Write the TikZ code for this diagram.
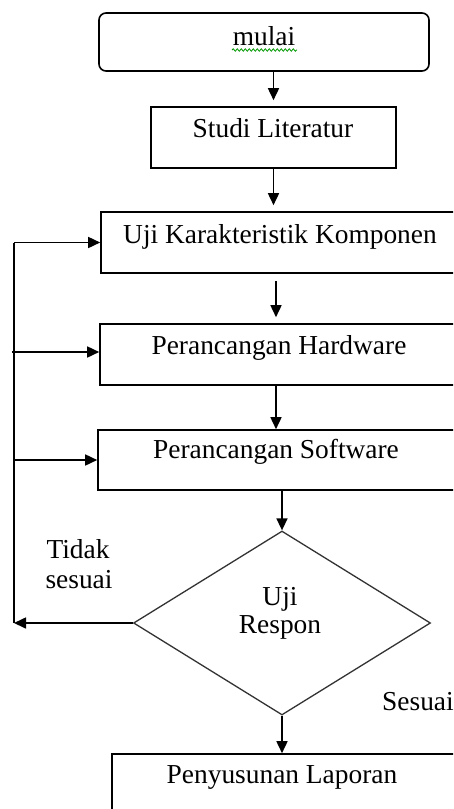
\documentclass[tikz,border=0pt]{standalone}
\usepackage{fontspec}
\setmainfont{Liberation Serif}
\usetikzlibrary{arrows.meta,shapes.geometric,decorations.pathmorphing}
\begin{document}
\begin{tikzpicture}[x=1pt,y=-1pt,
  box/.style={draw=black,line width=1.6pt,inner sep=0pt,minimum width=#1},
  txt/.style={anchor=base,inner sep=0pt,font=\fontsize{27.4}{30}\selectfont},
  arr/.style={line width=1.6pt,-{Triangle[length=12pt,width=11pt]}},
  ln/.style={line width=1.6pt}]
\useasboundingbox (0,0) rectangle (453,809);
\clip (0,0) rectangle (453,809);
\fill[white] (0,0) rectangle (453,809);
% boxes
\node[box=330pt,minimum height=58pt,rounded corners=7pt] (b1) at (264,42) {};
\node[box=245pt,minimum height=61pt] (b2) at (273.5,137.5) {};
\node[box=359pt,minimum height=61pt] (b3) at (280.5,242.5) {};
\node[box=360pt,minimum height=61pt] (b4) at (280,354.5) {};
\node[box=362pt,minimum height=60pt] (b5) at (279,460) {};
\node[diamond,draw=black!80,line width=1.3pt,inner sep=0pt,minimum width=297pt,minimum height=184pt] (d) at (282,623) {};
\node[box=348pt,minimum height=61pt] (b6) at (286,784.5) {};
% texts
\node[txt] (t1) at (264,45) {mulai};
\draw[green!60!black,line width=0.8pt,decorate,decoration={snake,amplitude=1.2pt,segment length=4pt}] (232,50) -- (297,50);
\node[txt] (t2) at (273,137) {Studi Literatur};
\node[txt] (t3) at (280,243) {Uji Karakteristik Komponen};
\node[txt] (t4) at (279,354) {Perancangan Hardware};
\node[txt] (t5) at (276,458) {Perancangan Software};
\node[txt] (t6) at (280,605) {Uji};
\node[txt] (t7) at (280,633) {Respon};
\node[txt] (t8) at (78,558) {Tidak};
\node[txt] (t9) at (79,588) {sesuai};
\node[txt] (t10) at (418,710) {Sesuai};
\node[txt] (t11) at (282,783) {Penyusunan Laporan};
% coordinates for loop
\coordinate (c1) at (14,623);
\coordinate (c2) at (12,352);
\coordinate (c3) at (14,460);
% connectors
\draw[arr,shorten >=6pt] (b1.south -| b2.north) -- (b2.north);
\draw[arr,shorten >=6pt] (b2.south) -- (b2.south |- b3.north);
\draw[arr,shorten <=7pt,shorten >=6pt] ([xshift=-4.5pt]b3.south) -- ([xshift=-4.5pt]b3.south |- b4.north);
\draw[arr] ([xshift=-4pt]b4.south) -- ([xshift=-4pt]b4.south |- b5.north);
\draw[arr] (b5.south -| d.north) -- (d.north);
\draw[arr] (d.south) -- (d.south |- b6.north);
\draw[arr] (d.west) -- (c1);
\draw[ln] (c1) -- (c1 |- b3.west);
\draw[arr] (c1 |- b3.west) -- (b3.west);
\draw[arr] (c2) -- (c2 -| b4.west);
\draw[arr] (c3) -- (b5.west);
\end{tikzpicture}
\end{document}
